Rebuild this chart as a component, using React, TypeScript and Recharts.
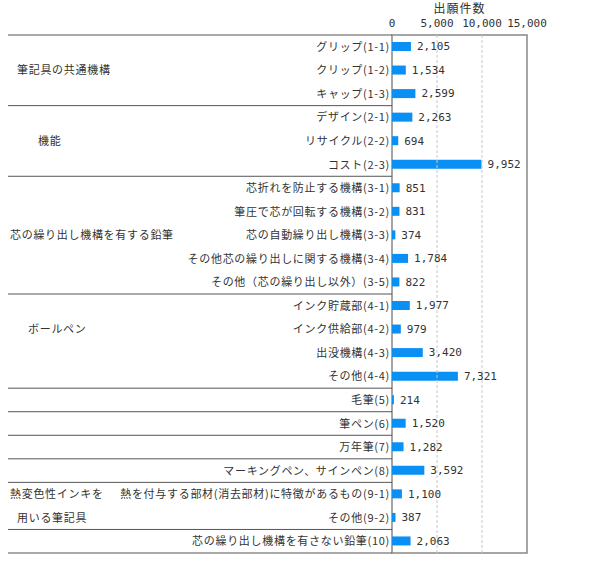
import React from 'react';
import { BarChart, Bar, XAxis, YAxis, ReferenceLine, ReferenceArea, LabelList } from 'recharts';

const CATEGORIES = [
  'グリップ(1-1)',
  'クリップ(1-2)',
  'キャップ(1-3)',
  'デザイン(2-1)',
  'リサイクル(2-2)',
  'コスト(2-3)',
  '芯折れを防止する機構(3-1)',
  '筆圧で芯が回転する機構(3-2)',
  '芯の自動繰り出し機構(3-3)',
  'その他芯の繰り出しに関する機構(3-4)',
  'その他（芯の繰り出し以外）(3-5)',
  'インク貯蔵部(4-1)',
  'インク供給部(4-2)',
  '出没機構(4-3)',
  'その他(4-4)',
  '毛筆(5)',
  '筆ペン(6)',
  '万年筆(7)',
  'マーキングペン、サインペン(8)',
  '熱を付与する部材(消去部材)に特徴があるもの(9-1)',
  'その他(9-2)',
  '芯の繰り出し機構を有さない鉛筆(10)',
];

const COUNTS = [2105, 1534, 2599, 2263, 694, 9952, 851, 831, 374, 1784, 822, 1977, 979, 3420, 7321, 214, 1520, 1282, 3592, 1100, 387, 2063];

// rows where a new group begins (separator drawn above them)
const GROUP_STARTS = [0, 3, 6, 11, 15, 16, 17, 18, 19, 21];

// group captions on the left, aligned with a row
const GROUP_ROWS = [1, 4, 8, 12, 19, 20];
const GROUP_TEXTS = ['筆記具の共通機構', '機能', '芯の繰り出し機構を有する鉛筆', 'ボールペン', '熱変色性インキを', '用いる筆記具'];

const X_TICKS = [0, 5000, 10000, 15000];
const GRID_VALUES = [5000, 10000];

// layout only
const GROUP_TEXT_X = [17, 38, 10, 28, 10, 17];
const FONT = '"Noto Sans CJK JP", "DejaVu Sans", sans-serif';
const MONO = '"DejaVu Sans Mono", "Liberation Mono", monospace';

const data = CATEGORIES.map((name, i) => ({ name, value: COUNTS[i] }));

const fmt = (v: any) => Number(v).toLocaleString('en-US');

const CategoryTick = (props: any) => {
  const { x, y, payload, index, height } = props;
  const band = (height || 518) / CATEGORIES.length;
  const gi = GROUP_ROWS.indexOf(index);
  return (
    <g>
      <text x={x} y={y} dy={4} textAnchor="end" fontSize={11} fill="#333" fontFamily={FONT} letterSpacing={0.7}>
        {payload.value}
      </text>
      {gi >= 0 && (
        <text x={GROUP_TEXT_X[gi]} y={y} dy={4} textAnchor="start" fontSize={11} fill="#333" fontFamily={FONT} letterSpacing={0.7}>
          {GROUP_TEXTS[gi]}
        </text>
      )}
      {GROUP_STARTS.includes(index) && (
        <line x1={8} x2={392} y1={y - band / 2} y2={y - band / 2} stroke="#555" strokeWidth={1} />
      )}
      {index === CATEGORIES.length - 1 && (
        <line x1={8} x2={392} y1={y + band / 2} y2={y + band / 2} stroke="#555" strokeWidth={1} />
      )}
    </g>
  );
};

export default function App() {
  return (
    <div style={{ position: 'absolute', left: 0, top: 0, width: 596, height: 561, background: '#fff' }}>
      <div
        style={{
          position: 'absolute',
          left: 392,
          width: 135,
          top: 0,
          textAlign: 'center',
          fontSize: 12,
          color: '#333',
          fontFamily: FONT,
          lineHeight: '16px',
          letterSpacing: 1,
        }}
      >
        出願件数
      </div>
      <BarChart
        width={596}
        height={561}
        data={data}
        layout="vertical"
        margin={{ top: 0, right: 69, bottom: 8, left: 0 }}
        barCategoryGap={0}
      >
        <XAxis
          type="number"
          orientation="top"
          domain={[0, 15000]}
          ticks={X_TICKS}
          tickFormatter={fmt}
          axisLine={false}
          tickLine={false}
          height={35}
          tickMargin={2}
          tick={{ fontSize: 11, fill: '#333', fontFamily: MONO }}
        />
        <YAxis
          type="category"
          dataKey="name"
          width={392}
          interval={0}
          axisLine={false}
          tickLine={false}
          tickSize={0}
          tickMargin={2}
          tick={<CategoryTick />}
        />
        {GRID_VALUES.map((v) => (
          <ReferenceLine key={v} x={v} stroke="#c8c8c8" strokeDasharray="3 2" />
        ))}
        <ReferenceArea x1={0} x2={15000} fill="none" stroke="#888" strokeWidth={1.5} />
        <Bar dataKey="value" fill="#0a8ff5" barSize={9} isAnimationActive={false}>
          <LabelList
            dataKey="value"
            position="right"
            offset={6}
            formatter={fmt}
            style={{ fontSize: 11, fill: '#333', fontFamily: MONO }}
          />
        </Bar>
      </BarChart>
    </div>
  );
}
